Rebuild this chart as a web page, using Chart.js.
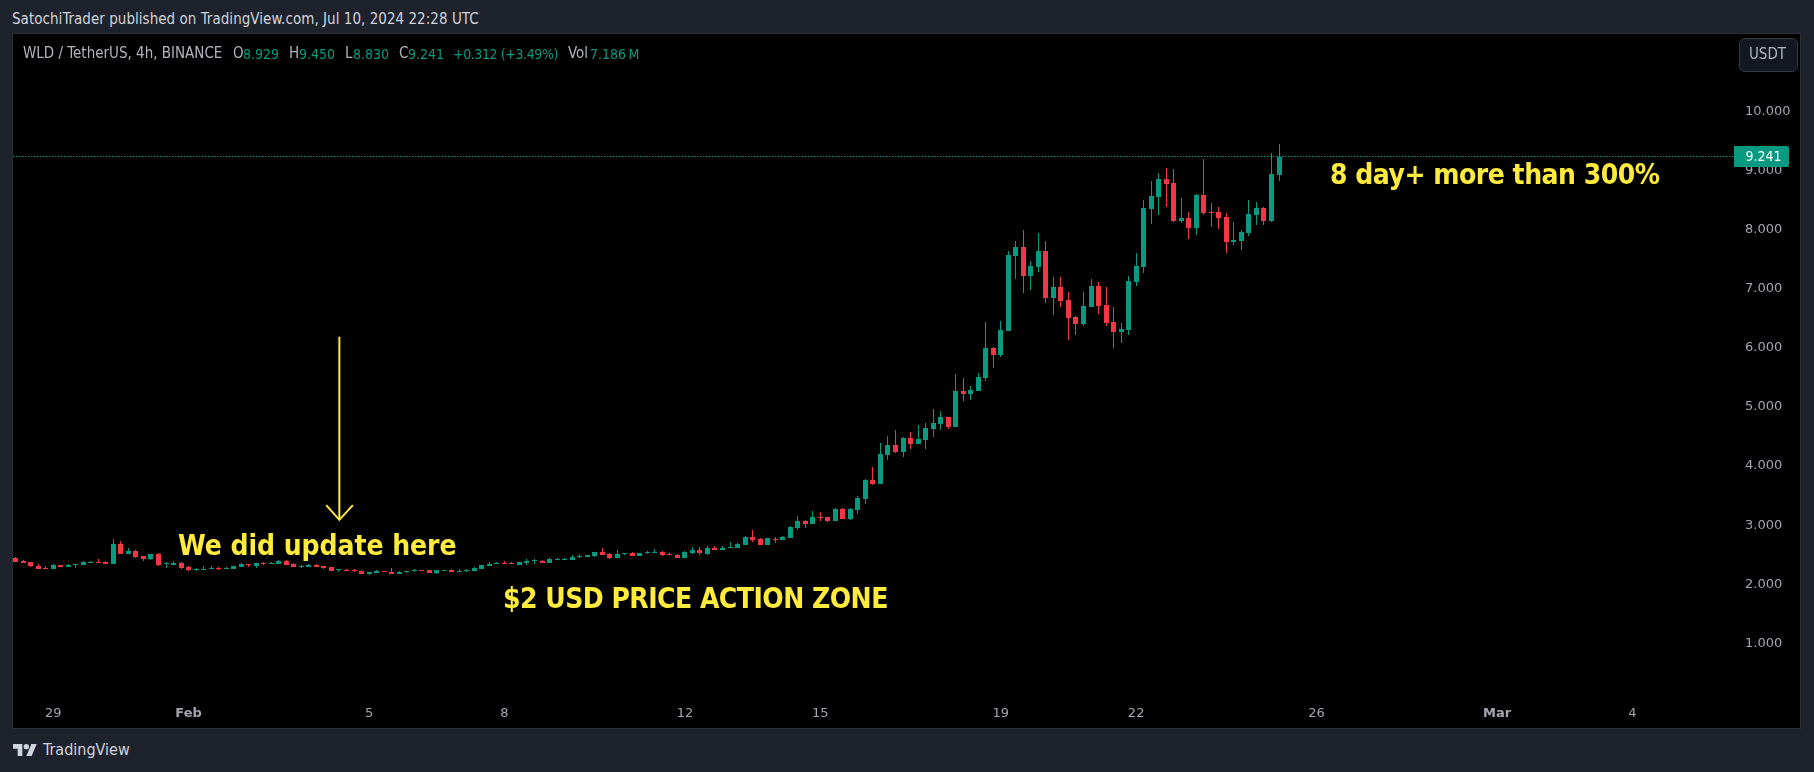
<!DOCTYPE html>
<html><head><meta charset="utf-8">
<style>
html,body{margin:0;padding:0;background:#1e222d;width:1814px;height:772px;overflow:hidden}
body{font-family:"DejaVu Sans";font-stretch:condensed;position:relative}
.t{position:absolute;white-space:nowrap;line-height:1}
#frame{position:absolute;left:12px;top:33px;width:1787px;height:694px;border:1px solid #2a2e39;box-sizing:content-box;background:#000}
#c{position:absolute;left:13px;top:34px}
.a{color:#ffeb3b;font-weight:bold}
.g{color:#089981;font-size:14px;top:47px}.w{color:#b2b5be;font-size:15px;top:46px}
</style></head><body>
<div id="frame"></div>
<canvas id="c" width="1787" height="694" style="width:1787px;height:694px"></canvas>
<div class="t" style="left:12px;top:12px;font-size:15px;letter-spacing:.04px;color:#d1d4dc">SatochiTrader published on TradingView.com, Jul 10, 2024 22:28 UTC</div>
<div class="t w" style="left:23px">WLD / TetherUS, 4h, BINANCE</div>
<div class="t w" style="left:233px">O</div><div class="t g" style="left:243px">8.929</div>
<div class="t w" style="left:289px">H</div><div class="t g" style="left:299px">9.450</div>
<div class="t w" style="left:345px">L</div><div class="t g" style="left:353px">8.830</div>
<div class="t w" style="left:399px">C</div><div class="t g" style="left:408px">9.241</div>
<div class="t g" style="left:453px;letter-spacing:-.4px">+0.312 (+3.49%)</div>
<div class="t w" style="left:568px">Vol</div><div class="t g" style="left:590px">7.186&#8201;M</div>
<div style="position:absolute;left:1739px;top:38px;width:57px;height:32px;border:1px solid #363a45;border-radius:6px;background:#131722"></div>
<div class="t" style="left:1738px;top:47px;width:59px;text-align:center;font-size:15px;color:#b2b5be">USDT</div>
<div class="t" style="left:1734px;top:146px;width:55px;height:21px;line-height:21px;text-align:center;text-indent:4px;background:#089981;color:#fff;font-size:14px;border-radius:0 2px 2px 0">9.241</div>
<div class="t a" style="left:178px;top:532px;font-size:28px;letter-spacing:-.06px">We did update here</div>
<div class="t a" style="left:503px;top:585px;font-size:28px;letter-spacing:-.53px">$2 USD PRICE ACTION ZONE</div>
<div class="t a" style="left:1330px;top:161px;font-size:28px;letter-spacing:-.5px">8 day+ more than 300%</div>
<svg style="position:absolute;left:13px;top:744px" width="24" height="12" viewBox="0 4 36 18"><path fill="#d1d4dc" d="M14 22H7V11H0V4h14v18zM28 22h-8l7.5-18h8L28 22z"/><circle fill="#d1d4dc" cx="20" cy="8" r="4"/></svg>
<div class="t" style="left:43px;top:742px;font-size:16px;color:#d1d4dc">TradingView</div>
<script src="https://cdn.jsdelivr.net/npm/chart.js@4"></script>
<script>
const firstSlot = -5;
const opens = [2.444,2.393,2.376,2.309,2.275,2.258,2.326,2.292,2.326,2.326,2.359,2.376,2.382,2.342,2.681,2.512,2.563,2.478,2.427,2.512,2.348,2.326,2.359,2.292,2.247,2.247,2.258,2.275,2.258,2.258,2.292,2.342,2.309,2.365,2.348,2.342,2.393,2.342,2.292,2.292,2.326,2.309,2.292,2.247,2.247,2.247,2.224,2.173,2.190,2.224,2.207,2.173,2.207,2.230,2.241,2.241,2.190,2.224,2.241,2.207,2.224,2.224,2.258,2.309,2.348,2.359,2.359,2.326,2.359,2.393,2.393,2.359,2.410,2.410,2.410,2.461,2.461,2.478,2.546,2.512,2.444,2.512,2.529,2.478,2.529,2.529,2.546,2.512,2.495,2.444,2.529,2.579,2.512,2.613,2.579,2.613,2.613,2.664,2.800,2.766,2.664,2.766,2.749,2.782,2.952,3.070,3.020,3.138,3.138,3.070,3.273,3.104,3.256,3.443,3.764,3.697,4.188,4.357,4.238,4.475,4.374,4.442,4.628,4.713,4.831,4.662,5.271,5.220,5.271,5.492,5.996,5.881,6.288,7.558,7.710,7.219,7.371,7.642,6.846,7.033,6.813,6.525,6.406,6.694,7.050,6.728,6.440,6.277,6.305,7.117,7.371,8.353,8.556,8.861,8.793,8.150,8.201,8.032,8.590,8.302,8.302,8.218,7.795,7.811,7.947,8.252,8.370,8.150,8.929];
const highs = [2.461,2.405,2.376,2.342,2.309,2.342,2.326,2.342,2.342,2.393,2.393,2.427,2.393,2.766,2.732,2.613,2.579,2.478,2.512,2.529,2.376,2.393,2.376,2.309,2.275,2.309,2.309,2.292,2.292,2.309,2.359,2.342,2.359,2.382,2.382,2.410,2.410,2.359,2.326,2.342,2.342,2.309,2.292,2.258,2.258,2.258,2.241,2.207,2.241,2.224,2.275,2.224,2.224,2.264,2.241,2.241,2.241,2.241,2.258,2.258,2.258,2.292,2.326,2.376,2.376,2.393,2.376,2.376,2.427,2.427,2.410,2.444,2.444,2.444,2.495,2.512,2.495,2.546,2.613,2.529,2.579,2.529,2.546,2.529,2.563,2.596,2.563,2.529,2.512,2.563,2.630,2.630,2.647,2.647,2.647,2.715,2.698,2.816,2.918,2.783,2.783,2.800,2.816,2.986,3.155,3.087,3.240,3.223,3.138,3.290,3.290,3.290,3.494,3.781,3.984,4.391,4.509,4.611,4.492,4.577,4.696,4.729,4.966,4.933,4.831,5.559,5.491,5.356,5.576,6.440,6.017,6.457,7.642,7.811,7.998,7.473,7.947,7.811,7.202,7.202,6.948,6.542,6.948,7.168,7.117,7.033,6.694,6.423,7.219,7.608,8.506,8.827,8.963,9.047,9.030,8.539,8.302,8.607,9.200,8.455,8.387,8.285,8.133,7.998,8.506,8.472,8.387,9.301,9.450];
const lows = [2.376,2.359,2.292,2.258,2.258,2.258,2.292,2.292,2.275,2.326,2.359,2.359,2.342,2.342,2.512,2.512,2.444,2.393,2.410,2.309,2.275,2.326,2.258,2.224,2.224,2.241,2.258,2.241,2.258,2.258,2.292,2.292,2.275,2.326,2.348,2.342,2.326,2.292,2.275,2.292,2.292,2.258,2.224,2.207,2.224,2.207,2.173,2.156,2.190,2.213,2.173,2.173,2.190,2.207,2.230,2.190,2.173,2.224,2.207,2.207,2.207,2.224,2.258,2.309,2.342,2.342,2.342,2.326,2.326,2.342,2.359,2.359,2.410,2.410,2.410,2.444,2.461,2.461,2.495,2.427,2.444,2.495,2.478,2.478,2.512,2.529,2.478,2.495,2.444,2.444,2.512,2.495,2.495,2.579,2.579,2.613,2.613,2.664,2.715,2.664,2.664,2.698,2.749,2.782,2.918,2.952,3.020,3.070,3.053,3.070,3.104,3.087,3.189,3.358,3.680,3.697,4.103,4.221,4.154,4.289,4.374,4.289,4.492,4.611,4.628,4.662,5.102,5.119,5.271,5.441,5.661,5.848,6.288,7.168,6.931,6.982,7.287,6.762,6.559,6.694,6.135,6.220,6.372,6.694,6.576,6.372,5.996,6.085,6.220,7.050,7.270,8.099,8.252,8.387,8.133,8.116,7.845,7.913,8.252,8.048,8.015,7.608,7.744,7.659,7.896,8.082,8.082,8.133,8.830];
const closes = [2.376,2.359,2.309,2.258,2.258,2.326,2.292,2.326,2.342,2.376,2.382,2.359,2.342,2.681,2.512,2.563,2.461,2.427,2.512,2.326,2.365,2.359,2.275,2.241,2.258,2.258,2.269,2.258,2.275,2.309,2.342,2.326,2.359,2.348,2.365,2.393,2.326,2.292,2.309,2.326,2.292,2.275,2.224,2.258,2.230,2.230,2.173,2.207,2.230,2.213,2.173,2.207,2.224,2.247,2.230,2.190,2.241,2.241,2.207,2.224,2.241,2.275,2.326,2.342,2.365,2.342,2.342,2.376,2.393,2.410,2.359,2.427,2.427,2.427,2.461,2.478,2.495,2.546,2.495,2.444,2.512,2.529,2.478,2.529,2.546,2.546,2.495,2.495,2.444,2.546,2.579,2.529,2.613,2.579,2.613,2.630,2.681,2.800,2.749,2.664,2.783,2.749,2.800,2.969,3.070,3.020,3.138,3.132,3.070,3.273,3.104,3.273,3.460,3.764,3.697,4.205,4.357,4.238,4.475,4.374,4.459,4.645,4.729,4.831,4.662,5.271,5.220,5.288,5.508,5.996,5.881,6.305,7.574,7.710,7.219,7.388,7.642,6.846,7.033,6.796,6.508,6.406,6.711,7.050,6.711,6.423,6.271,6.322,7.134,7.388,8.370,8.573,8.861,8.776,8.150,8.201,8.032,8.590,8.285,8.285,8.201,7.795,7.828,7.964,8.269,8.370,8.150,8.946,9.241];
const priceTicks = [1,2,3,4,5,6,7,8,9,10];
const timeTickSlots = [0,18,42,60,84,102,126,144,168,192,210];
const timeTickLabels = ['29','Feb','5','8','12','15','19','22','26','Mar','4'];
const boldTimeLabels = ['Feb','Mar'];
const lastPrice = 9.241;
const slotMin = -5.346, slotMax = 223.5, priceMin = 0.0406, priceMax = 11.3154;
const arrowShaftSlots = [38.05,38.05], arrowShaftPrices = [6.19,3.09];
const arrowHeadSlots = [36.3,38.05,39.85], arrowHeadPrices = [3.34,3.09,3.34];
const UP = '#089981', DOWN = '#f23645', ANNOT = '#ffeb3b', TICK = '#a3a6af';

const colors = closes.map((c,i)=> c>=opens[i] ? UP : DOWN);
const wicks = highs.map((h,i)=>({x:firstSlot+i, y:[lows[i],h]}));
const bodies = opens.map((o,i)=>({x:firstSlot+i, y:[o,closes[i]]}));
const zip = (xs,ys)=>xs.map((x,i)=>({x,y:ys[i]}));

const snap = { id:'snap', afterDatasetsUpdate(chart){
  chart.data.datasets.forEach((d,di)=>{
    if(d.type==='line') return;
    chart.getDatasetMeta(di).data.forEach(el=>{
      el.x = Math.floor(el.x)+0.5;
      let a=Math.round(el.y), b=Math.round(el.base);
      if(a===b) b=a+1;
      el.y=a; el.base=b;
    });
  });
}};
const noPad = s => { s.paddingTop=0; s.paddingBottom=0; s.paddingLeft=0; s.paddingRight=0; };

Chart.defaults.animation=false;
new Chart(document.getElementById('c'),{
  type:'bar',
  data:{datasets:[
    {type:'line',data:zip([slotMin,slotMax],[lastPrice,lastPrice]),borderColor:UP,borderWidth:1,borderDash:[1.5,1.5],pointRadius:0,order:3},
    {type:'line',data:zip(arrowShaftSlots,arrowShaftPrices),borderColor:ANNOT,borderWidth:2,pointRadius:0,tension:0,order:0},
    {type:'line',data:zip(arrowHeadSlots,arrowHeadPrices),borderColor:ANNOT,borderWidth:2,pointRadius:0,tension:0,order:0},
    {data:wicks,backgroundColor:colors,barThickness:1,grouped:false,inflateAmount:0,order:2},
    {data:bodies,backgroundColor:colors,barThickness:5,grouped:false,inflateAmount:0,order:1}
  ]},
  options:{
    responsive:false,animation:false,devicePixelRatio:1,
    layout:{padding:0},
    plugins:{legend:{display:false},tooltip:{enabled:false},title:{display:false}},
    scales:{
      x:{type:'linear',min:slotMin,max:slotMax,offset:false,
        grid:{display:false,drawTicks:false},border:{display:false},
        afterFit(s){s.height=28;noPad(s)},
        afterBuildTicks(s){s.ticks=timeTickSlots.map(v=>({value:v}))},
        ticks:{autoSkip:false,maxRotation:0,includeBounds:false,padding:6,color:TICK,
          font:c=>({family:'"DejaVu Sans"',size:13,weight:boldTimeLabels.includes(timeTickLabels[timeTickSlots.indexOf(c.tick&&c.tick.value)])?'bold':'normal'}),
          callback:v=>timeTickLabels[timeTickSlots.indexOf(v)]}},
      y:{type:'linear',position:'right',min:priceMin,max:priceMax,
        grid:{display:false,drawTicks:false},border:{display:false},
        afterFit(s){s.width=66;noPad(s)},
        afterBuildTicks(s){s.ticks=priceTicks.map(v=>({value:v}))},
        ticks:{padding:11,color:TICK,font:{family:'"DejaVu Sans"',size:13},callback:v=>v.toFixed(3)}}
    }
  },
  plugins:[snap]
});
</script>
</body></html>
